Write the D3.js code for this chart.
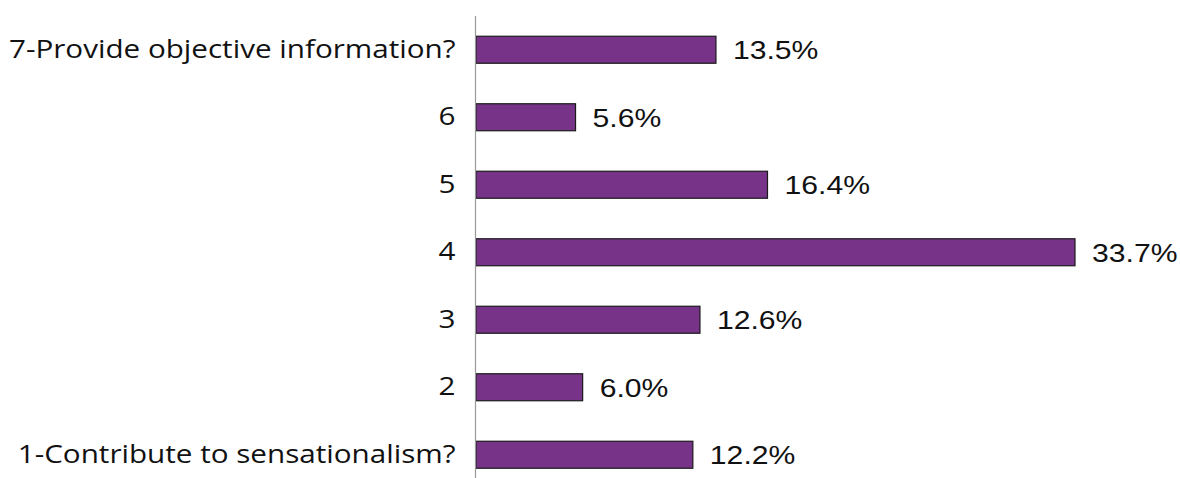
<!DOCTYPE html>
<meta charset="utf-8">
<script src="https://d3js.org/d3.v7.min.js"></script>
<style>
  body { margin: 0; background: #fff; }
</style>
<div id="chart"></div>
<script>
// data
var categories = ["7-Provide objective information?", "6", "5", "4", "3", "2", "1-Contribute to sensationalism?"];
var values = [13.5, 5.6, 16.4, 33.7, 12.6, 6.0, 12.2];

var W = 1180, H = 478;
var left = 476;
var sx = 1.16;  // value labels in the original look horizontally stretched
var sxCat = 1.185;

var svg = d3.select("#chart")
  .append("svg")
    .attr("width", W)
    .attr("height", H);

var x = d3.scaleLinear()
  .domain([0, 33.7])
  .range([left, 1075]);

var y = d3.scaleBand()
  .domain(categories)
  .range([16, 16 + 67.5 * 7])
  .paddingInner(0.6)
  .paddingOuter(0.3);

// bars
svg.selectAll("rect.bar")
  .data(values)
  .enter()
  .append("rect")
    .attr("class", "bar")
    .attr("x", x(0))
    .attr("y", function(d, i) { return y(categories[i]); })
    .attr("width", function(d) { return x(d) - x(0); })
    .attr("height", y.bandwidth())
    .attr("fill", "#763388")
    .attr("stroke", "#1a1a1a")
    .attr("stroke-width", 1.2);

// value labels
svg.selectAll("g.val")
  .data(values)
  .enter()
  .append("g")
    .attr("class", "val")
    .attr("transform", function(d, i) {
      return "translate(" + (x(d) + 17) + "," + (y(categories[i]) + y.bandwidth() / 2) + ") scale(" + sx + ",1)";
    })
  .append("text")
    .attr("dy", "0.36em")
    .style("font-family", "'Liberation Sans', Arial, sans-serif")
    .style("font-size", "26px")
    .style("fill", "#111")
    .text(function(d) { return d.toFixed(1) + "%"; });

// category axis
var yAxis = svg.append("g")
  .attr("transform", "translate(" + (left - 0.5) + ",0)")
  .call(d3.axisLeft(y).tickSize(0).tickPadding(20));
yAxis.select(".domain").remove();
yAxis.selectAll("text")
  .attr("x", -20 / sxCat)
  .attr("transform", "scale(" + sxCat + ",1)")
  .style("font-family", "'Open Sans', 'Noto Sans', sans-serif")
  .style("font-size", "25px")
  .style("fill", "#111");

svg.append("line")
  .attr("x1", left - 0.5).attr("x2", left - 0.5)
  .attr("y1", 16).attr("y2", H)
  .attr("stroke", "#999")
  .attr("stroke-width", 1.2);
</script>
